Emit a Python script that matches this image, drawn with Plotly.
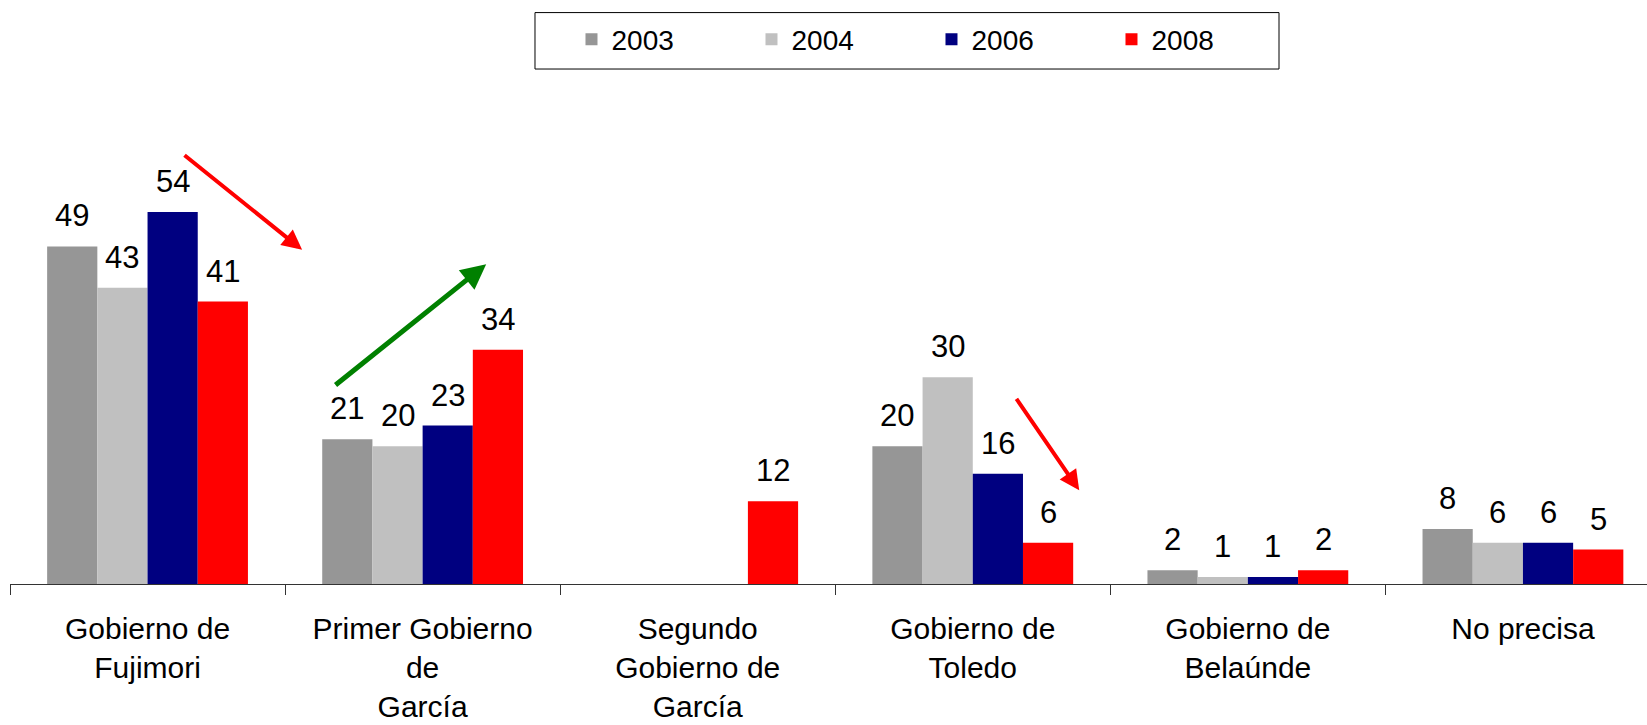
import plotly.graph_objects as go

categories = [
    "Gobierno de<br>Fujimori",
    "Primer Gobierno<br>de<br>García",
    "Segundo<br>Gobierno de<br>García",
    "Gobierno de<br>Toledo",
    "Gobierno de<br>Belaúnde",
    "No precisa",
]
years = ["2003", "2004", "2006", "2008"]
v2003 = [49, 21, None, 20, 2, 8]
v2004 = [43, 20, None, 30, 1, 6]
v2006 = [54, 23, None, 16, 1, 6]
v2008 = [41, 34, 12, 6, 2, 5]
series = [v2003, v2004, v2006, v2008]
colors = ["#969696", "#C0C0C0", "#000080", "#FF0000"]

FONT = "Liberation Sans, Arial, sans-serif"
BARGAP = 0.27

fig = go.Figure()
for name, vals, col in zip(years, series, colors):
    fig.add_trace(go.Bar(name=name, x=categories, y=vals, marker_color=col,
                         marker_line_width=0))

# value labels above bars
n = len(series)
bw = (1 - BARGAP) / n
annotations = []
for j, vals in enumerate(series):
    off = (j - (n - 1) / 2) * bw
    for i, v in enumerate(vals):
        if v is None:
            continue
        annotations.append(dict(x=i + off, y=v, xref="x", yref="y", text=str(v),
                                showarrow=False, yanchor="bottom", yshift=11,
                                font=dict(size=31, color="black", family=FONT)))

# trend arrows
arrows = [
    dict(x=0.562, y=48.5, ax=0.129, ay=62.4, color="#FF0000", w=4),
    dict(x=1.231, y=46.4, ax=0.678, ay=28.7, color="#008000", w=5),
    dict(x=3.387, y=13.6, ax=3.155, ay=27.1, color="#FF0000", w=4),
]
for a in arrows:
    annotations.append(dict(x=a["x"], y=a["y"], ax=a["ax"], ay=a["ay"], xref="x", yref="y",
                            axref="x", ayref="y", showarrow=True, arrowhead=2,
                            arrowsize=1.0, arrowwidth=a["w"], arrowcolor=a["color"],
                            text="", standoff=0))

fig.update_layout(
    width=1647, height=725,
    margin=dict(l=10, r=0, t=100, b=141),
    barmode="group", bargap=BARGAP, bargroupgap=0,
    plot_bgcolor="white", paper_bgcolor="white",
    font=dict(family=FONT, size=31, color="black"),
    showlegend=True,
    legend=dict(orientation="h", x=0.343, xanchor="left", y=1.125, yanchor="middle",
                font=dict(size=28, family=FONT, color="black"),
                entrywidth=135, entrywidthmode="pixels", bgcolor="rgba(0,0,0,0)",
                borderwidth=0, itemclick=False),
    annotations=annotations,
    shapes=[dict(type="rect", xref="paper", yref="paper", x0=0.3207, x1=0.7752,
                 y0=1.064, y1=1.1806, line=dict(color="black", width=1))],
)
fig.update_xaxes(type="category", range=[-0.5, 5.451], showline=True, linecolor="#333333",
                 linewidth=1, ticks="outside", tickson="boundaries", ticklen=10,
                 tickcolor="#333333", showgrid=False, ticklabelstandoff=18,
                 automargin=False,
                 tickfont=dict(size=30, family=FONT, color="black"))
fig.update_yaxes(range=[0, 70.25], visible=False, showgrid=False, zeroline=False,
                 automargin=False)

fig.write_html("out.html", config={"displayModeBar": False},
               post_script="document.body.style.margin='0';")
